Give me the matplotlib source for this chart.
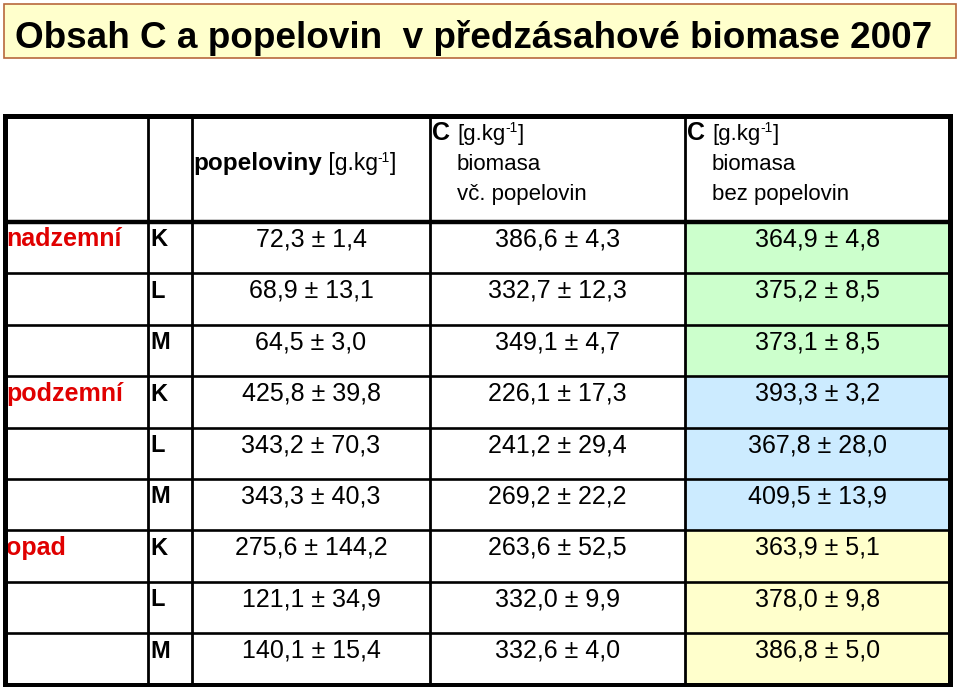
import matplotlib.pyplot as plt
from matplotlib.patches import Rectangle

plt.rcParams['font.family'] = ['Liberation Sans', 'DejaVu Sans']

# data
title = 'Obsah C a popelovin  v předzásahové biomase 2007'
groups = ['nadzemní', 'podzemní', 'opad']
variants = ['K', 'L', 'M']
ash = ['72,3 ± 1,4', '68,9 ± 13,1', '64,5 ± 3,0',
       '425,8 ± 39,8', '343,2 ± 70,3', '343,3 ± 40,3',
       '275,6 ± 144,2', '121,1 ± 34,9', '140,1 ± 15,4']
c_with_ash = ['386,6 ± 4,3', '332,7 ± 12,3', '349,1 ± 4,7',
              '226,1 ± 17,3', '241,2 ± 29,4', '269,2 ± 22,2',
              '263,6 ± 52,5', '332,0 ± 9,9', '332,6 ± 4,0']
c_without_ash = ['364,9 ± 4,8', '375,2 ± 8,5', '373,1 ± 8,5',
                 '393,3 ± 3,2', '367,8 ± 28,0', '409,5 ± 13,9',
                 '363,9 ± 5,1', '378,0 ± 9,8', '386,8 ± 5,0']
group_colors = ['#CCFFCC', '#CCEBFF', '#FFFFCC']

fig = plt.figure(figsize=(9.6, 6.87), dpi=100)
ax = fig.add_axes([0, 0, 1, 1])
ax.set_xlim(0, 960)
ax.set_ylim(687, 0)
ax.axis('off')
renderer = fig.canvas.get_renderer()

# title box
ax.add_patch(Rectangle((4, 4), 952, 54, facecolor='#FFFFCC', edgecolor='#B8683C', lw=1.2))
ax.text(15, 48.5, title, fontsize=26.6, fontweight='bold', ha='left', va='baseline')

# table geometry
left, right, top, head_bottom, bottom = 4.5, 949.5, 115.5, 222, 684.5
cols = [left, 148, 192, 430, 685, right]
row_h = (bottom - head_bottom) / 9
row_tops = [head_bottom + i * row_h for i in range(9)]

# coloured last column
for i, y0 in enumerate(row_tops):
    ax.add_patch(Rectangle((cols[4], y0), cols[5] - cols[4], row_h,
                           facecolor=group_colors[i // 3], edgecolor='none', zorder=0))

# grid lines
for y0 in row_tops[1:]:
    ax.plot([left, right], [y0, y0], color='black', lw=1.9, solid_capstyle='butt')
ax.plot([left, right], [head_bottom, head_bottom], color='black', lw=3.2, solid_capstyle='butt')
for x0 in cols[1:5]:
    ax.plot([x0, x0], [top, bottom], color='black', lw=2.0, solid_capstyle='butt')
ax.add_patch(Rectangle((left, top), right - left, bottom - top, fill=False,
                       edgecolor='black', lw=3.6, zorder=5))


def pieces(x, y, parts):
    # parts: (text, size, weight, raise)
    for txt, size, weight, dy in parts:
        t = ax.text(x, y - dy, txt, fontsize=size, fontweight=weight, ha='left', va='baseline')
        x += t.get_window_extent(renderer).width


# header
pieces(193, 170, [('popeloviny', 17.5, 'bold', 0), (' [g.kg', 16.5, 'normal', 0),
                  ('-1', 10, 'normal', 8), (']', 16.5, 'normal', 0)])
for cx, last in [(cols[3], 'vč. popelovin'), (cols[4], 'bez popelovin')]:
    ax.text(cx + 2, 140, 'C', fontsize=18, fontweight='bold', ha='left', va='baseline')
    pieces(cx + 27, 140, [('[g.kg', 16, 'normal', 0),
                          ('-1', 10, 'normal', 8), (']', 16, 'normal', 0)])
    ax.text(cx + 27, 170, 'biomasa', fontsize=16, ha='left', va='baseline')
    ax.text(cx + 27, 200, last, fontsize=16, ha='left', va='baseline')

# body
for i, y0 in enumerate(row_tops):
    yb = y0 + 24.5
    if i % 3 == 0:
        ax.text(6, yb, groups[i // 3], fontsize=18, fontweight='bold', color='#E00000',
                ha='left', va='baseline')
    ax.text(150, yb, variants[i % 3], fontsize=17, fontweight='bold', ha='left', va='baseline')
    ax.text((cols[2] + cols[3]) / 2, yb, ash[i], fontsize=18, ha='center', va='baseline')
    ax.text((cols[3] + cols[4]) / 2, yb, c_with_ash[i], fontsize=18, ha='center', va='baseline')
    ax.text((cols[4] + cols[5]) / 2, yb, c_without_ash[i], fontsize=18, ha='center', va='baseline')

fig.savefig('out.png', dpi=100)
